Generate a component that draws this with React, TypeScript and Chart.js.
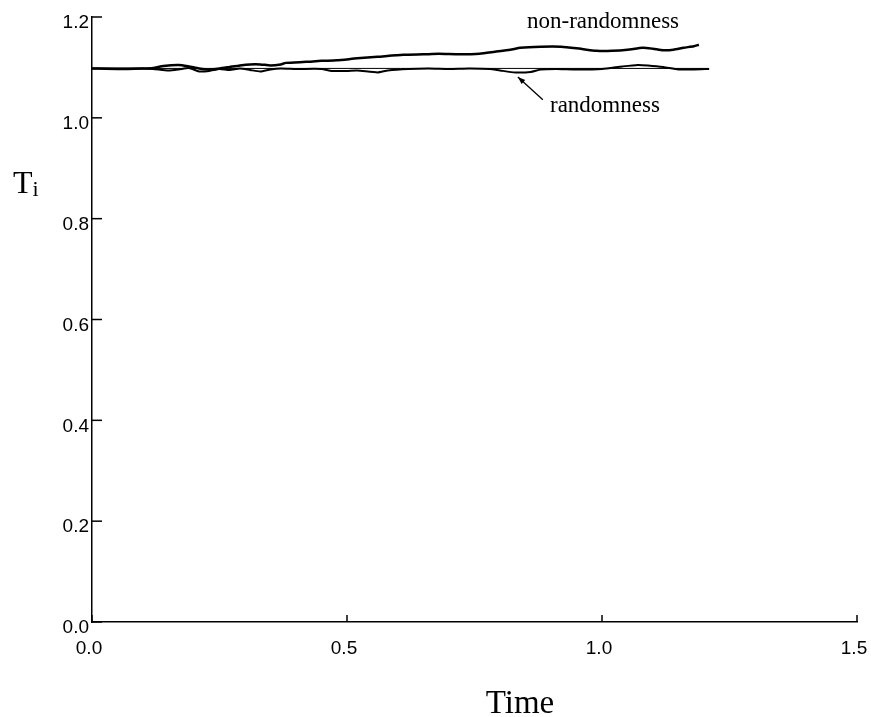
import React, { useEffect, useRef } from "react";
import { Chart, registerables } from "chart.js";

Chart.register(...registerables);

// ---- data ----
const nonRandX = [0.0, 0.05, 0.1, 0.12, 0.14, 0.17, 0.19, 0.21, 0.23, 0.25, 0.27, 0.29, 0.31, 0.33, 0.35, 0.37, 0.38, 0.42, 0.45, 0.48, 0.52, 0.56, 0.61, 0.65, 0.68, 0.72, 0.76, 0.79, 0.82, 0.84, 0.88, 0.92, 0.95, 0.99, 1.02, 1.05, 1.08, 1.1, 1.12, 1.14, 1.16, 1.18, 1.19];
const nonRandY = [1.098, 1.097, 1.098, 1.099, 1.103, 1.105, 1.102, 1.098, 1.096, 1.098, 1.101, 1.104, 1.106, 1.106, 1.104, 1.106, 1.109, 1.111, 1.113, 1.114, 1.118, 1.121, 1.125, 1.126, 1.127, 1.126, 1.127, 1.131, 1.135, 1.139, 1.141, 1.141, 1.138, 1.133, 1.133, 1.135, 1.139, 1.137, 1.134, 1.135, 1.139, 1.142, 1.145];

const randX = [0.0, 0.1, 0.12, 0.15, 0.17, 0.19, 0.21, 0.23, 0.25, 0.27, 0.29, 0.31, 0.33, 0.35, 0.37, 0.4, 0.45, 0.47, 0.5, 0.52, 0.56, 0.58, 0.62, 0.66, 0.7, 0.74, 0.78, 0.8, 0.83, 0.86, 0.88, 0.91, 0.95, 1.0, 1.04, 1.07, 1.09, 1.12, 1.15, 1.18, 1.21];
const randY = [1.098, 1.098, 1.097, 1.094, 1.096, 1.099, 1.092, 1.093, 1.097, 1.095, 1.098, 1.095, 1.092, 1.096, 1.098, 1.097, 1.097, 1.093, 1.093, 1.094, 1.09, 1.094, 1.097, 1.098, 1.097, 1.098, 1.097, 1.094, 1.09, 1.091, 1.096, 1.097, 1.096, 1.097, 1.102, 1.105, 1.104, 1.101, 1.096, 1.096, 1.097];

const refX = [0.0, 1.21];
const refY = [1.098, 1.098];

const xTicks = [0.0, 0.5, 1.0, 1.5];
const yTicks = [0.0, 0.2, 0.4, 0.6, 0.8, 1.0, 1.2];

const nonRandLabel = "non-randomness";
const randLabel = "randomness";
const xTitle = "Time";

const SERIF = "'Liberation Serif', 'DejaVu Serif', serif";
const SANS = "'Liberation Sans', Arial, sans-serif";

const toPts = (xs: number[], ys: number[]) => xs.map((x, i) => ({ x, y: ys[i] }));

const decorPlugin = {
  id: "decor",
  afterDraw(chart: any) {
    const ctx = chart.ctx;
    const xs = chart.scales.x;
    const ys = chart.scales.y;
    const area = chart.chartArea;
    ctx.save();
    ctx.strokeStyle = "#000";
    ctx.lineWidth = 1.5;
    // inward ticks
    yTicks.forEach((v) => {
      const py = ys.getPixelForValue(v);
      ctx.beginPath();
      ctx.moveTo(area.left, py);
      ctx.lineTo(area.left + 10, py);
      ctx.stroke();
    });
    xTicks.forEach((v) => {
      const px = xs.getPixelForValue(v);
      ctx.beginPath();
      ctx.moveTo(px, area.bottom);
      ctx.lineTo(px, area.bottom - 7);
      ctx.stroke();
    });
    // annotations
    ctx.fillStyle = "#000";
    ctx.font = `23px ${SERIF}`;
    ctx.textBaseline = "middle";
    ctx.textAlign = "left";
    ctx.fillText(nonRandLabel, xs.getPixelForValue(0.853), ys.getPixelForValue(1.19));
    ctx.fillText(randLabel, xs.getPixelForValue(0.898), ys.getPixelForValue(1.024));
    // arrow
    const x0 = xs.getPixelForValue(0.884), y0 = ys.getPixelForValue(1.036);
    const x1 = xs.getPixelForValue(0.835), y1 = ys.getPixelForValue(1.081);
    ctx.lineWidth = 1.3;
    ctx.beginPath();
    ctx.moveTo(x0, y0);
    ctx.lineTo(x1, y1);
    ctx.stroke();
    const ang = Math.atan2(y1 - y0, x1 - x0);
    const hl = 8;
    ctx.beginPath();
    ctx.moveTo(x1, y1);
    ctx.lineTo(x1 - hl * Math.cos(ang - 0.35), y1 - hl * Math.sin(ang - 0.35));
    ctx.lineTo(x1 - hl * Math.cos(ang + 0.35), y1 - hl * Math.sin(ang + 0.35));
    ctx.closePath();
    ctx.fill();
    // y title: T with subscript i
    ctx.textBaseline = "alphabetic";
    ctx.font = `32px ${SERIF}`;
    ctx.fillText("T", 13, 193);
    const tw = ctx.measureText("T").width;
    ctx.font = `22px ${SERIF}`;
    ctx.fillText("i", 13 + tw, 196);
    // x title
    ctx.font = `33px ${SERIF}`;
    ctx.textAlign = "center";
    ctx.fillText(xTitle, 520, 713);
    ctx.restore();
  },
};

export default function App() {
  const ref = useRef<HTMLCanvasElement | null>(null);
  useEffect(() => {
    if (!ref.current) return;
    const chart = new Chart(ref.current, {
      type: "scatter",
      data: {
        datasets: [
          {
            label: "reference",
            data: toPts(refX, refY),
            showLine: true,
            borderColor: "#000",
            borderWidth: 1,
            pointRadius: 0,
          },
          {
            label: randLabel,
            data: toPts(randX, randY),
            showLine: true,
            borderColor: "#000",
            borderWidth: 2,
            pointRadius: 0,
            tension: 0.2,
          },
          {
            label: nonRandLabel,
            data: toPts(nonRandX, nonRandY),
            showLine: true,
            borderColor: "#000",
            borderWidth: 2.5,
            pointRadius: 0,
            tension: 0.2,
          },
        ],
      },
      options: {
        animation: false,
        responsive: false,
        maintainAspectRatio: false,
        layout: { padding: { left: 0, top: 17, right: 0, bottom: 0 } },
        plugins: { legend: { display: false }, tooltip: { enabled: false } },
        scales: {
          x: {
            type: "linear",
            min: 0,
            max: 1.5,
            afterBuildTicks: (s: any) => {
              s.ticks = xTicks.map((v) => ({ value: v }));
            },
            afterFit: (s: any) => {
              s.height = 95;
              s.paddingRight = 14;
            },
            grid: { display: false, drawTicks: false },
            border: { display: true, color: "#000", width: 1.5 },
            ticks: {
              color: "#000",
              font: { family: SANS, size: 19 },
              padding: 15,
              labelOffset: -3,
              maxRotation: 0,
              callback: (v: any) => Number(v).toFixed(1),
            },
          },
          y: {
            type: "linear",
            min: 0,
            max: 1.2,
            afterBuildTicks: (s: any) => {
              s.ticks = yTicks.map((v) => ({ value: v }));
            },
            afterFit: (s: any) => {
              s.width = 92;
            },
            grid: { display: false, drawTicks: false },
            border: { display: true, color: "#000", width: 1.5 },
            ticks: {
              color: "#000",
              font: { family: SANS, size: 19 },
              padding: 3,
              labelOffset: 6,
              callback: (v: any) => Number(v).toFixed(1),
            },
          },
        },
      },
      plugins: [decorPlugin],
    } as any);
    return () => chart.destroy();
  }, []);
  return (
    <div style={{ position: "absolute", left: 0, top: 0, width: 871, height: 717, background: "#fff" }}>
      <canvas ref={ref} width={871} height={717} style={{ width: 871, height: 717, display: "block" }} />
    </div>
  );
}
